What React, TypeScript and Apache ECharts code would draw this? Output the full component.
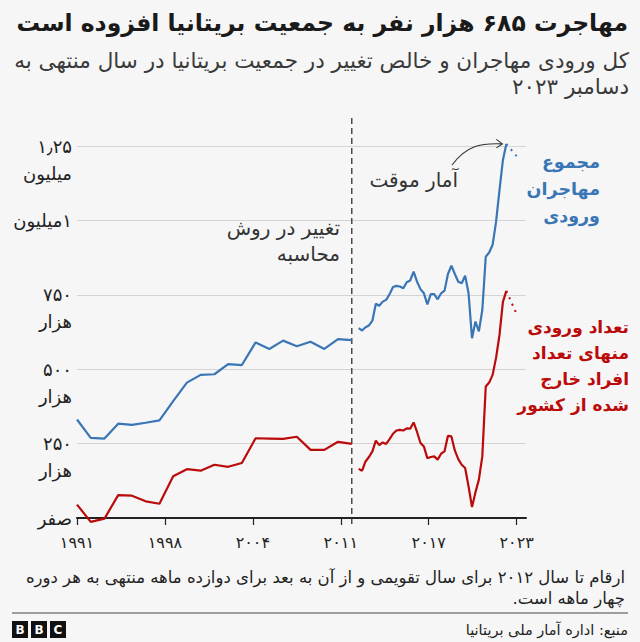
import React, { useEffect, useRef } from "react";
import * as echarts from "echarts";

const FONT = '"DejaVu Sans", "Noto Sans", sans-serif';

// Calendar-year figures 1991–2011
const annualYears = [1991, 1992, 1993, 1994, 1995, 1996, 1997, 1998, 1999, 2000, 2001, 2002, 2003, 2004, 2005, 2006, 2007, 2008, 2009, 2010, 2011];
const annualTotal = [331000, 269000, 267000, 317000, 313000, 320000, 328000, 393000, 455000, 481000, 483000, 517000, 514000, 590000, 568000, 596000, 577000, 592000, 568000, 601000, 598000];
const annualNet = [45000, -13000, -2000, 77000, 75000, 56000, 48000, 140000, 164000, 159000, 179000, 172000, 185000, 268000, 267000, 266000, 273000, 229000, 229000, 256000, 249000];

// Rolling twelve-month figures (quarterly) from mid 2012
const quarterlyStart = 2011.5;
const quarterlyStep = 0.25;
const quarterlyTotal = [638000, 630000, 641000, 647000, 663000, 720000, 713000, 727000, 733000, 752000, 776000, 780000, 778000, 772000, 792000, 798000, 828000, 794000, 769000, 755000, 718000, 752000, 752000, 735000, 755000, 764000, 820000, 848000, 820000, 794000, 789000, 814000, 755000, 604000, 660000, 627000, 699000, 878000, 892000, 918000, 995000, 1102000, 1203000, 1257000];
const quarterlyNet = [165000, 159000, 190000, 205000, 224000, 260000, 245000, 254000, 249000, 265000, 283000, 294000, 296000, 294000, 301000, 300000, 321000, 289000, 252000, 240000, 201000, 205000, 207000, 196000, 216000, 224000, 276000, 274000, 227000, 198000, 179000, 168000, 106000, 37000, 86000, 129000, 207000, 442000, 455000, 481000, 538000, 615000, 726000, 763000];

// Provisional figures (dotted)
const provisionalYear = 2023;
const provisionalTotal = 1216000;
const provisionalNet = 685000;

const xTickValues = [1991, 1997.4, 2003.8, 2010.2, 2016.6, 2023];
const xTickLabels = ["۱۹۹۱", "۱۹۹۸", "۲۰۰۴", "۲۰۱۱", "۲۰۱۷", "۲۰۲۳"];
const yTickValues = [0, 250000, 500000, 750000, 1000000, 1250000];
const yTickLabels = ["صفر", "۲۵۰\nهزار", "۵۰۰\nهزار", "۷۵۰\nهزار", "\u200F۱میلیون", "۱٫۲۵\nمیلیون"];

const methodChangeYear = 2011;

const titleText = "مهاجرت ۶۸۵ هزار نفر به جمعیت بریتانیا افزوده است";
const subtitleText = "کل ورودی مهاجران و خالص تغییر در جمعیت بریتانیا در سال منتهی به\nدسامبر ۲۰۲۳";
const methodNote = "تغییر در روش\nمحاسبه";
const provisionalNote = "آمار موقت";
const totalLabel = "مجموع\nمهاجران\nورودی";
const netLabel = "تعداد ورودی\nمنهای تعداد\nافراد خارج\nشده از کشور";
const footnote = "ارقام تا سال ۲۰۱۲ برای سال تقویمی و از آن به بعد برای دوازده ماهه منتهی به هر دوره\nچهار ماهه است.\u200F";
const sourceText = "منبع: اداره آمار ملی بریتانیا";

const BLUE = "#3a76b5";
const RED = "#bb0a0a";
const DARK = "#222222";

export default function App() {
  const ref = useRef<HTMLDivElement>(null);
  useEffect(() => {
    document.body.style.margin = "0";
    const chart = echarts.init(ref.current!, null, { renderer: "svg" });

    const quarterlyX = quarterlyTotal.map((_, i) => quarterlyStart + quarterlyStep * i);
    const lastQ = quarterlyX.length - 1;

    const lineSeries = (name: string, data: number[][], color: string, dotted = false) => ({
      type: "line",
      name,
      data,
      showSymbol: false,
      symbol: "none",
      clip: false,
      lineStyle: { color, width: dotted ? 2 : 2.2, type: dotted ? [2, 5] : "solid" },
      z: 5,
    });

    const text = (x: number, y: number, t: string, opts: any = {}) => ({
      type: "text",
      x,
      y,
      z: 10,
      style: {
        text: t,
        fontFamily: FONT,
        fontSize: opts.size || 16,
        fontWeight: opts.weight || "normal",
        fill: opts.color || DARK,
        align: opts.align || "right",
        textAlign: opts.align || "right",
        verticalAlign: opts.valign || "middle",
        textVerticalAlign: opts.valign || "middle",
        lineHeight: opts.lineHeight,
      },
    });

    chart.setOption({
      animation: false,
      backgroundColor: "#f6f6f6",
      grid: { left: 77, right: 114, top: 146, bottom: 124, containLabel: false },
      xAxis: {
        type: "value",
        min: 1991,
        max: 2023.68,
        axisLine: { show: true, lineStyle: { color: DARK, width: 2 } },
        axisTick: { show: true, customValues: xTickValues, length: 7, lineStyle: { color: DARK, width: 1.2 } },
        axisLabel: {
          customValues: xTickValues,
          formatter: (v: number) => {
            let best = 0;
            xTickValues.forEach((t, i) => {
              if (Math.abs(t - v) < Math.abs(xTickValues[best] - v)) best = i;
            });
            return xTickLabels[best];
          },
          fontFamily: FONT,
          fontSize: 16,
          color: DARK,
          margin: 16,
        },
        splitLine: { show: false },
      },
      yAxis: {
        type: "value",
        min: 0,
        max: 1250000,
        interval: 250000,
        axisLine: { show: false },
        axisTick: { show: false },
        splitLine: { lineStyle: { color: "#d4d4d4", width: 1 } },
        axisLabel: {
          formatter: (v: number) => {
            const i = yTickValues.indexOf(v);
            const l = i >= 0 ? yTickLabels[i] : "";
            return l.indexOf("\n") >= 0 ? "\n" + l : l;
          },
          fontFamily: FONT,
          fontSize: 18,
          color: DARK,
          margin: 5,
          lineHeight: 27,
          align: "right",
        },
      },
      series: [
        lineSeries("total-annual", annualYears.map((y, i) => [y, annualTotal[i]]), BLUE),
        lineSeries("total-quarterly", quarterlyX.map((x, i) => [x, quarterlyTotal[i]]), BLUE),
        lineSeries("total-provisional", [[quarterlyX[lastQ], quarterlyTotal[lastQ]], [provisionalYear, provisionalTotal]], BLUE, true),
        lineSeries("net-annual", annualYears.map((y, i) => [y, annualNet[i]]), RED),
        lineSeries("net-quarterly", quarterlyX.map((x, i) => [x, quarterlyNet[i]]), RED),
        lineSeries("net-provisional", [[quarterlyX[lastQ], quarterlyNet[lastQ]], [provisionalYear, provisionalNet]], RED, true),
      ],
    });

    const dashX = chart.convertToPixel({ xAxisIndex: 0 }, methodChangeYear) as number;
    const peak = chart.convertToPixel({ gridIndex: 0 }, [quarterlyX[lastQ], quarterlyTotal[lastQ]]) as number[];

    chart.setOption({
      graphic: [
        text(628, 23, titleText, { size: 23.5, weight: "bold", color: "#1a1a1a" }),
        text(629, 73, subtitleText, { size: 21.5, color: "#3a3a3a", lineHeight: 26 }),
        {
          type: "line",
          z: 4,
          shape: { x1: dashX, y1: 118, x2: dashX, y2: 526 },
          style: { stroke: "#333", lineWidth: 1.3, lineDash: [6, 4] },
        },
        text(340, 241, methodNote, { size: 20, color: "#333", lineHeight: 26 }),
        text(458, 180, provisionalNote, { size: 20, color: "#333" }),
        {
          type: "bezierCurve",
          z: 10,
          shape: { x1: 452, y1: 165, x2: peak[0] - 4, y2: peak[1], cpx1: 466, cpy1: 146, cpx2: 480, cpy2: 143 },
          style: { stroke: "#333", lineWidth: 1.1, fill: "none" },
        },
        {
          type: "polyline",
          z: 10,
          shape: { points: [[peak[0] - 10, peak[1] - 4.5], [peak[0] - 4, peak[1]], [peak[0] - 10, peak[1] + 4]] },
          style: { stroke: "#333", lineWidth: 1.1, fill: "none" },
        },
        text(600, 189, totalLabel, { size: 17.5, weight: "bold", color: BLUE, lineHeight: 27 }),
        text(629, 366, netLabel, { size: 17, weight: "bold", color: RED, lineHeight: 26 }),
        text(625, 588, footnote, { size: 16.5, color: "#222", lineHeight: 21 }),
        {
          type: "line",
          shape: { x1: 12, y1: 613, x2: 628, y2: 613 },
          style: { stroke: "#444", lineWidth: 1 },
        },
        text(628, 630, sourceText, { size: 14.5, color: "#222" }),
        ...[0, 1, 2].map((i) => ({
          type: "rect",
          shape: { x: 12 + i * 19, y: 621, width: 16, height: 17 },
          style: { fill: "#111" },
        })),
        ...["B", "B", "C"].map((ch, i) => text(20 + i * 19, 630, ch, { size: 12, weight: "bold", color: "#fff", align: "center" })),
      ],
    });

    return () => chart.dispose();
  }, []);
  return <div ref={ref} style={{ width: 640, height: 642 }} />;
}
